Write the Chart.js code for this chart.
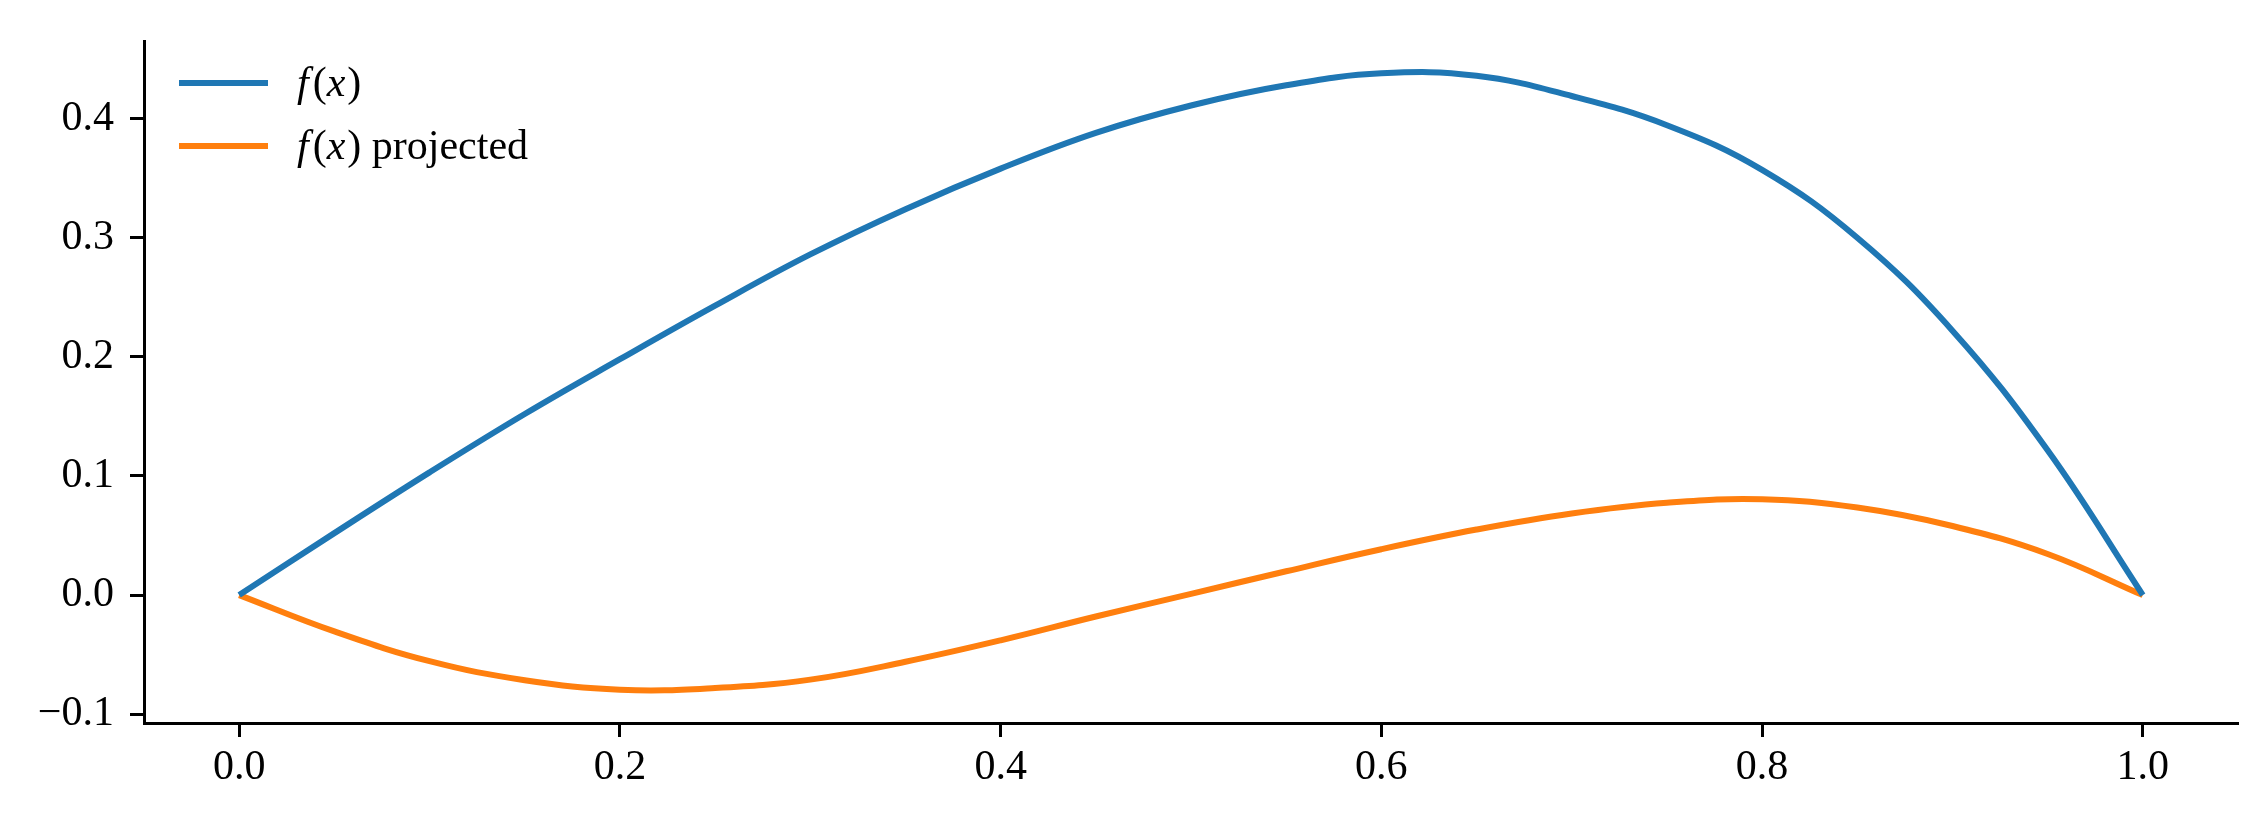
<!DOCTYPE html>
<html>
<head>
<meta charset="utf-8">
<script src="https://cdn.jsdelivr.net/npm/chart.js@4.4.1/dist/chart.umd.min.js"></script>
<style>
  body { margin: 0; background: #fff; }
  #wrap { width: 2266px; height: 819px; }
</style>
</head>
<body>
<div id="wrap"><canvas id="plot" width="2266" height="819"></canvas></div>
<script>
// sample positions and values
const xs = [0, 0.05, 0.1, 0.15, 0.2, 0.25, 0.3, 0.35, 0.4, 0.45, 0.5,
            0.55, 0.6, 0.65, 0.7, 0.75, 0.8, 0.85, 0.9, 0.95, 1.0];
const fx = [0, 0.052, 0.103, 0.152, 0.198, 0.243, 0.286, 0.324, 0.358, 0.388, 0.411,
            0.428, 0.438, 0.436, 0.419, 0.3945, 0.357, 0.300, 0.222, 0.1215, 0];
const fxProj = [0, -0.0305, -0.0555, -0.0715, -0.0795, -0.078, -0.071, -0.056, -0.038, -0.018, 0.001,
                0.020, 0.0385, 0.055, 0.0685, 0.0775, 0.0805, 0.0735, 0.058, 0.0345, 0];
const xTicks = [0, 0.2, 0.4, 0.6, 0.8, 1.0];
const yTicks = [-0.1, 0, 0.1, 0.2, 0.3, 0.4];
const seriesNames = ["f(x)", "f(x) projected"];
const colors = ["#1f77b4", "#ff7f0e"];

const serif = "'Liberation Serif', 'DejaVu Serif', serif";

function pts(ys) {
  return xs.map((x, i) => ({ x: x, y: ys[i] }));
}

function fmt(v) {
  let s = Math.abs(v).toFixed(1);
  return v < -1e-9 ? "\u2212" + s : s;
}

// legend drawn inside the axes, matplotlib style
const innerLegend = {
  id: "innerLegend",
  afterDraw(chart) {
    const ctx = chart.ctx;
    const rows = [83, 146];
    ctx.save();
    rows.forEach((y, i) => {
      ctx.strokeStyle = colors[i];
      ctx.lineWidth = 6;
      ctx.lineCap = "butt";
      ctx.beginPath();
      ctx.moveTo(179, y);
      ctx.lineTo(268, y);
      ctx.stroke();

      // f(x) with italic f and x
      let x = 297;
      ctx.fillStyle = "#000";
      ctx.textBaseline = "middle";
      const parts = [["f", true], ["(", false], ["x", true], [")", false]];
      if (i == 1) parts.push([" projected", false]);
      parts.forEach(p => {
        ctx.font = (p[1] ? "italic " : "") + "42px " + serif;
        ctx.fillText(p[0], x, y + 2);
        x += ctx.measureText(p[0]).width + (p[0] == "f" ? 4 : (p[0] == "x" ? 2 : 0));
      });
    });
    ctx.restore();
  }
};

new Chart(document.getElementById("plot"), {
  type: "line",
  data: {
    datasets: [
      { label: seriesNames[0], data: pts(fx), borderColor: colors[0], borderWidth: 6,
        pointRadius: 0, tension: 0.4, fill: false },
      { label: seriesNames[1], data: pts(fxProj), borderColor: colors[1], borderWidth: 6,
        pointRadius: 0, tension: 0.4, fill: false }
    ]
  },
  options: {
    responsive: false,
    animation: false,
    layout: { padding: { top: 29, right: 28, left: 0, bottom: 0 } },
    plugins: { legend: { display: false }, tooltip: { enabled: false } },
    scales: {
      x: {
        type: "linear",
        min: -0.05,
        max: 1.05,
        afterBuildTicks: s => { s.ticks = xTicks.map(v => ({ value: v })); },
        afterFit: s => { s.height = 96; },
        grid: { drawOnChartArea: false, drawTicks: true, tickLength: 14, tickWidth: 3, tickColor: "#000" },
        border: { display: true, color: "#000", width: 3 },
        ticks: { color: "#000", font: { family: serif, size: 42 }, padding: 6, maxRotation: 0,
                 callback: v => fmt(v) }
      },
      y: {
        type: "linear",
        min: -0.1074,
        max: 0.465,
        afterBuildTicks: s => { s.ticks = yTicks.map(v => ({ value: v })); },
        afterFit: s => { s.width = 144; },
        grid: { drawOnChartArea: false, drawTicks: true, tickLength: 14, tickWidth: 3, tickColor: "#000" },
        border: { display: true, color: "#000", width: 3 },
        ticks: { color: "#000", font: { family: serif, size: 42 }, padding: 16,
                 callback: v => fmt(v) }
      }
    }
  },
  plugins: [innerLegend]
});
</script>
</body>
</html>
